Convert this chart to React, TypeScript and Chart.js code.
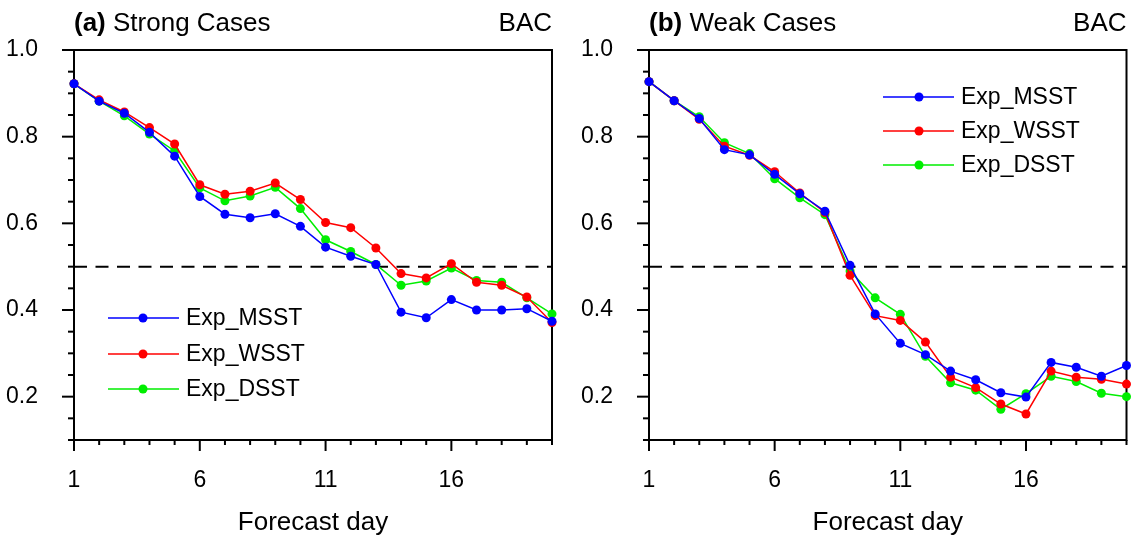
import React, { useEffect, useRef } from "react";
import { Chart, registerables } from "chart.js";

Chart.register(...registerables);

// ---- Data ----
const DAYS = [1, 2, 3, 4, 5, 6, 7, 8, 9, 10, 11, 12, 13, 14, 15, 16, 17, 18, 19, 20];
const X_TICKS = [1, 6, 11, 16];
const Y_TICKS = [0.2, 0.4, 0.6, 0.8, 1.0];
const SERIES_NAMES = ["Exp_MSST", "Exp_WSST", "Exp_DSST"];
const SERIES_COLORS = ["#0000ff", "#ff0000", "#00ee00"];

const strongMSST = [0.922, 0.882, 0.854, 0.81, 0.755, 0.662, 0.621, 0.613, 0.622, 0.593, 0.545, 0.524, 0.505, 0.395, 0.382, 0.424, 0.4, 0.4, 0.403, 0.374];
const strongWSST = [0.922, 0.885, 0.857, 0.821, 0.783, 0.689, 0.667, 0.674, 0.693, 0.655, 0.602, 0.59, 0.543, 0.484, 0.474, 0.507, 0.464, 0.457, 0.43, 0.371];
const strongDSST = [0.922, 0.882, 0.848, 0.806, 0.767, 0.682, 0.652, 0.663, 0.683, 0.634, 0.562, 0.535, 0.505, 0.457, 0.467, 0.497, 0.468, 0.464, 0.428, 0.391];

const weakMSST = [0.927, 0.883, 0.842, 0.77, 0.758, 0.713, 0.668, 0.628, 0.503, 0.391, 0.323, 0.297, 0.259, 0.239, 0.209, 0.199, 0.279, 0.268, 0.247, 0.272];
const weakWSST = [0.927, 0.883, 0.84, 0.778, 0.757, 0.719, 0.67, 0.625, 0.48, 0.387, 0.376, 0.326, 0.245, 0.221, 0.183, 0.16, 0.259, 0.245, 0.24, 0.229];
const weakDSST = [0.927, 0.883, 0.846, 0.786, 0.761, 0.703, 0.659, 0.62, 0.49, 0.428, 0.39, 0.293, 0.232, 0.215, 0.171, 0.207, 0.247, 0.235, 0.208, 0.2];

const THRESHOLD = 0.5;
const FONT = '"Liberation Sans", Arial, Helvetica, sans-serif';

type PanelProps = {
  left: number;
  width: number;
  padRight: number;
  tag: string;
  title: string;
  values: number[][];
  legend: { lineX0: number; lineX1: number; markX: number; textX: number; rows: number[] };
};

function Panel({ left, width, padRight, tag, title, values, legend }: PanelProps) {
  const ref = useRef<HTMLCanvasElement>(null);

  useEffect(() => {
    const framePlugin = {
      id: "frame",
      beforeDatasetsDraw(chart: any) {
        const { ctx, chartArea, scales } = chart;
        const { left: l, right: r, top: t, bottom: b } = chartArea;
        const xs = scales.x;
        const ys = scales.y;
        ctx.save();
        // threshold dashed line
        const yt = ys.getPixelForValue(THRESHOLD);
        ctx.strokeStyle = "#000";
        ctx.lineWidth = 2;
        ctx.setLineDash([13, 8.5]);
        ctx.beginPath();
        ctx.moveTo(l, yt);
        ctx.lineTo(r, yt);
        ctx.stroke();
        ctx.setLineDash([]);
        // frame
        ctx.lineWidth = 2;
        ctx.strokeRect(l, t, r - l, b - t);
        // y ticks
        for (let k = 2; k <= 20; k++) {
          const v = k * 0.05;
          const py = ys.getPixelForValue(v);
          const major = Y_TICKS.some((m) => Math.abs(m - v) < 1e-6);
          ctx.beginPath();
          ctx.moveTo(l - (major ? 12 : 6), py);
          ctx.lineTo(l, py);
          ctx.stroke();
        }
        // x ticks
        for (const d of DAYS) {
          const px = xs.getPixelForValue(d);
          const major = X_TICKS.includes(d);
          ctx.beginPath();
          ctx.moveTo(px, b);
          ctx.lineTo(px, b + (major ? 11 : 5));
          ctx.stroke();
        }
        // x tick labels
        ctx.fillStyle = "#000";
        ctx.font = `23px ${FONT}`;
        ctx.textAlign = "center";
        ctx.textBaseline = "alphabetic";
        for (const d of X_TICKS) {
          ctx.fillText(String(d), xs.getPixelForValue(d), b + 47);
        }
        // titles
        ctx.textAlign = "left";
        ctx.font = `bold 26px ${FONT}`;
        ctx.fillText(tag, l, 31);
        const tw = ctx.measureText(tag).width;
        ctx.font = `26px ${FONT}`;
        ctx.fillText(" " + title, l + tw, 31);
        ctx.textAlign = "right";
        ctx.fillText("BAC", r, 31);
        ctx.restore();
      },
      afterDatasetsDraw(chart: any) {
        const { ctx } = chart;
        ctx.save();
        SERIES_NAMES.forEach((name, i) => {
          const y = legend.rows[i];
          ctx.strokeStyle = SERIES_COLORS[i];
          ctx.lineWidth = 1.5;
          ctx.beginPath();
          ctx.moveTo(legend.lineX0, y);
          ctx.lineTo(legend.lineX1, y);
          ctx.stroke();
          ctx.fillStyle = SERIES_COLORS[i];
          ctx.beginPath();
          ctx.arc(legend.markX, y, 4.5, 0, Math.PI * 2);
          ctx.fill();
          ctx.fillStyle = "#000";
          ctx.font = `23px ${FONT}`;
          ctx.textAlign = "left";
          ctx.textBaseline = "middle";
          ctx.fillText(name, legend.textX, y + 1);
        });
        ctx.restore();
      },
    };

    const chart = new Chart(ref.current as HTMLCanvasElement, {
      type: "line",
      data: {
        datasets: values.map((vals, i) => ({
          label: SERIES_NAMES[i],
          data: DAYS.map((d, j) => ({ x: d, y: vals[j] })),
          borderColor: SERIES_COLORS[i],
          backgroundColor: SERIES_COLORS[i],
          pointBackgroundColor: SERIES_COLORS[i],
          pointBorderWidth: 0,
          pointRadius: 4.5,
          borderWidth: 1.5,
          tension: 0,
          clip: false as any,
        })),
      },
      options: {
        animation: false,
        responsive: false,
        layout: { padding: { top: 50, right: padRight, left: 0, bottom: 0 } },
        plugins: { legend: { display: false }, tooltip: { enabled: false } },
        scales: {
          x: {
            type: "linear",
            min: 1,
            max: 20,
            grid: { display: false },
            border: { display: false },
            afterBuildTicks: (s: any) => {
              s.ticks = X_TICKS.map((v) => ({ value: v }));
            },
            afterFit: (s: any) => {
              s.height = 95;
            },
            ticks: { display: false },
            title: {
              display: true,
              text: "Forecast day",
              color: "#000",
              font: { family: FONT, size: 26 },
              padding: { top: 0, bottom: -3 },
            },
          },
          y: {
            type: "linear",
            min: 0.1,
            max: 1.0,
            grid: { display: false },
            border: { display: false },
            afterBuildTicks: (s: any) => {
              s.ticks = Y_TICKS.map((v) => ({ value: v }));
            },
            afterFit: (s: any) => {
              s.width = 74;
            },
            ticks: {
              padding: 28,
              color: "#000",
              font: { family: FONT, size: 23 },
              callback: (v: any) => Number(v).toFixed(1),
            },
          },
        },
      },
      plugins: [framePlugin],
    } as any);
    return () => chart.destroy();
  }, []);

  return (
    <div style={{ position: "absolute", left, top: 0, width, height: 535 }}>
      <canvas ref={ref} width={width} height={535} style={{ display: "block" }} />
    </div>
  );
}

export default function App() {
  return (
    <div style={{ position: "fixed", left: 0, top: 0, width: 1131, height: 535, background: "#fff" }}>
      <Panel
        left={0}
        width={575}
        padRight={23}
        tag="(a)"
        title="Strong Cases"
        values={[strongMSST, strongWSST, strongDSST]}
        legend={{ lineX0: 108, lineX1: 179, markX: 143, textX: 186, rows: [318, 354, 389] }}
      />
      <Panel
        left={575}
        width={556}
        padRight={4}
        tag="(b)"
        title="Weak Cases"
        values={[weakMSST, weakWSST, weakDSST]}
        legend={{ lineX0: 308, lineX1: 379, markX: 344, textX: 386, rows: [97, 131, 165] }}
      />
    </div>
  );
}
